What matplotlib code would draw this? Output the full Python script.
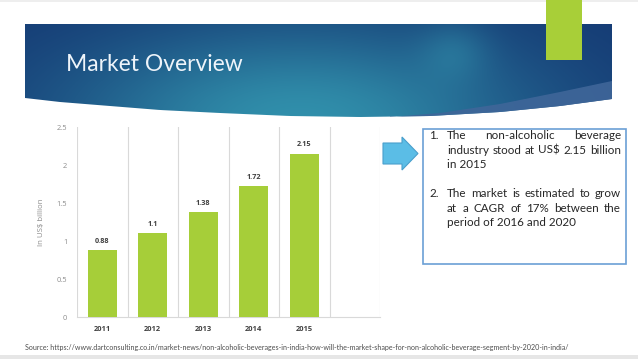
import numpy as np
import matplotlib
matplotlib.use('Agg')
import matplotlib.pyplot as plt
from matplotlib.patches import Polygon, Rectangle

# ---- data ----
years = ['2011', '2012', '2013', '2014', '2015']
values = [0.88, 1.1, 1.38, 1.72, 2.15]
value_labels = ['0.88', '1.1', '1.38', '1.72', '2.15']
yticks = [0, 0.5, 1, 1.5, 2, 2.5]
ytick_labels = ['0', '0.5', '1', '1.5', '2', '2.5']
title = 'Market Overview'
ylabel = 'In US$ billion'
para1 = ['The non-alcoholic beverage', 'industry stood at US$ 2.15 billion', 'in 2015']
para2 = ['The market is estimated to grow', 'at a CAGR of 17% between the', 'period of 2016 and 2020']
source = ('Source: https://www.dartconsulting.co.in/market-news/non-alcoholic-beverages-in-india-'
          'how-will-the-market-shape-for-non-alcoholic-beverage-segment-by-2020-in-india/')

plt.rcParams['font.family'] = ['Lato', 'DejaVu Sans']
chart_font = ['Open Sans', 'DejaVu Sans']

W, H = 638, 359
fig = plt.figure(figsize=(W / 100, H / 100), dpi=100)
fig.patch.set_facecolor('white')
bg = fig.add_axes([0, 0, 1, 1])
bg.axis('off')

# ---- banner with gradient ----
ox = np.array([25, 60, 110, 160, 220, 290, 360, 430, 500, 560, 612])
oy = np.array([98, 102, 106, 110, 113, 116, 117, 116, 112, 106, 99])
xs = np.linspace(25, 612, 120)
outer = np.interp(xs, ox, oy)
pts = [(25, 24), (612, 24)] + [(x, y) for x, y in zip(xs[::-1], outer[::-1])]
banner = Polygon(pts, closed=True, facecolor='none', edgecolor='none', transform=bg.transData)
bg.add_patch(banner)

gx = np.linspace(25, 612, 400)
gy = np.linspace(24, 120, 120)
GX, GY = np.meshgrid(gx, gy)
navy = np.array([0.08, 0.22, 0.45])
teal = np.array([0.19, 0.56, 0.67])
w = np.exp(-((GX - 300) / 235) ** 2 - ((GY - 120) / 95) ** 2)
w += 0.3 * np.exp(-((GX - 455) / 35) ** 2 - ((GY - 50) / 30) ** 2)
w = np.clip(w, 0, 1)
img = navy[None, None, :] * (1 - w[..., None]) + teal[None, None, :] * w[..., None]
im = bg.imshow(img, extent=(25, 612, 120, 24), origin='upper', aspect='auto', zorder=1)
im.set_clip_path(banner)

# lighter sweep at lower right
ix = np.array([390, 440, 500, 560, 612])
iy = np.array([117, 113, 104, 92, 81])
xs2 = np.linspace(390, 612, 60)
inner = np.interp(xs2, ix, iy)
outer2 = np.interp(xs2, ox, oy)
sweep = [(x, y) for x, y in zip(xs2, inner)] + [(x, y) for x, y in zip(xs2[::-1], outer2[::-1])]
bg.add_patch(Polygon(sweep, closed=True, facecolor='#3f6699', edgecolor='none', alpha=0.9, zorder=2))

# green tab
bg.add_patch(Rectangle((546, 0), 36, 60, facecolor='#a8cf38', edgecolor='none', zorder=3))

# top / bottom light bands
bg.add_patch(Rectangle((0, 0), W, 2, facecolor='#eeeeee', edgecolor='none', zorder=0))
bg.add_patch(Rectangle((0, 355), W, 4, facecolor='#e6e6e6', edgecolor='none', zorder=0))

bg.set_xlim(0, W)
bg.set_ylim(H, 0)

r = fig.canvas.get_renderer()

def fit_size(txt, target, base=10, **kw):
    t = bg.text(0, 0, txt, fontsize=base, **kw)
    wdt = t.get_window_extent(r).width
    t.remove()
    return base * target / wdt

# title
ts = fit_size(title, 177)
bg.text(66, 71, title, fontsize=ts, color='#eef4fa', va='baseline', zorder=4)

# ---- arrow ----
arrow = [(383, 143), (402, 143), (402, 137), (418, 153.5), (402, 170), (402, 164), (383, 164)]
bg.add_patch(Polygon(arrow, closed=True, facecolor='#5bbde6', edgecolor='#4a9fcc', lw=0.8, zorder=3))

# ---- text box ----
bg.add_patch(Rectangle((423, 129), 203, 135, facecolor='none', edgecolor='#6b9fd6', lw=1.2, zorder=3))
fs = fit_size(para1[1], 172)
tcol = '#262626'

def line(txt, x0, x1, y, justify):
    words = txt.split(' ')
    if not justify:
        bg.text(x0, y, txt, fontsize=fs, color=tcol, va='baseline', zorder=4)
        return
    tt = [bg.text(0, y, wd, fontsize=fs, color=tcol, va='baseline', zorder=4) for wd in words]
    ws = [t.get_window_extent(r).width for t in tt]
    gap = (x1 - x0 - sum(ws)) / (len(words) - 1)
    x = x0
    for t, wd in zip(tt, ws):
        t.set_x(x)
        x += wd + gap

base1 = [139, 153.5, 168]
base2 = [197, 211.5, 226]
for num, para, bases in (('1.', para1, base1), ('2.', para2, base2)):
    bg.text(429, bases[0], num, fontsize=fs, color=tcol, va='baseline', zorder=4)
    for k, (ln, b) in enumerate(zip(para, bases)):
        line(ln, 447, 621, b, justify=(k < len(para) - 1))

# source
ss = fit_size(source, 550)
bg.text(25, 350, source, fontsize=ss, color='#4d4d4d', va='baseline')

# ---- chart ----
ax = fig.add_axes([77 / W, 1 - 317 / H, (380 - 77) / W, (317 - 127) / H])
ax.set_facecolor('none')
x = np.arange(len(years))
ax.bar(x, values, width=0.58, color='#a6ce39', zorder=3)
ax.set_xlim(-0.5, 5.5)
ax.set_ylim(0, 2.5)
for gxl in np.arange(-0.5, 6.0, 1.0):
    ax.axvline(gxl, color='#d9d9d9', lw=0.8, zorder=1)
for s in ('top', 'right', 'left'):
    ax.spines[s].set_visible(False)
ax.spines['bottom'].set_color('#d9d9d9')
ax.spines['bottom'].set_linewidth(0.8)
ax.set_xticks(x)
ax.set_xticklabels(years, fontsize=5.4, fontweight='bold', color='#404040', family=chart_font)
ax.set_yticks(yticks)
ax.set_yticklabels(ytick_labels, fontsize=5.4, color='#8c8c8c', family=chart_font)
ax.tick_params(axis='x', length=0, pad=6.5)
ax.tick_params(axis='y', length=0, pad=7)
ax.set_ylabel(ylabel, fontsize=5.6, color='#8c8c8c', family=chart_font)
ax.yaxis.set_label_coords(-0.106, 0.5)
for xi, v, lab in zip(x, values, value_labels):
    ax.annotate(lab, (xi, v), xytext=(0, 4), textcoords='offset points', ha='center',
                va='bottom', fontsize=5.2, fontweight='bold', color='#404040', family=chart_font)

fig.savefig('out.png', dpi=100)
